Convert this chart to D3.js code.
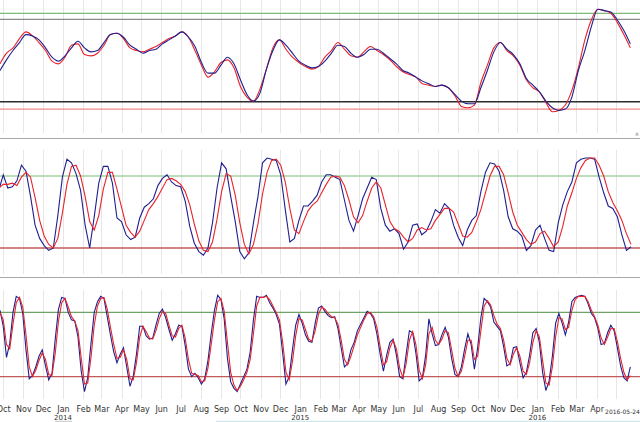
<!DOCTYPE html>
<html>
<head>
<meta charset="utf-8">
<script src="https://cdn.jsdelivr.net/npm/d3@7/dist/d3.min.js"></script>
<style>
  body { margin: 0; background: #fff; }
  svg { display: block; }
</style>
</head>
<body>
<svg id="chart" width="640" height="422"></svg>
<script>
// time span of the chart
const startDate = new Date(2013, 8, 26)
const endDate = new Date(2016, 4, 24)

// top oscillator, one value every 10 days from startDate
const topBlue = [47, 55, 62, 68, 74, 73, 70, 64, 57, 54, 58, 64, 69, 64, 61, 62, 68, 74, 75, 72,
  66, 63, 60, 62, 63, 67, 70, 73, 76, 72, 65, 53, 45, 45, 51, 57, 52, 40, 29, 24,
  30, 48, 62, 70, 66, 60, 54, 51, 49, 50, 54, 60, 66, 65, 60, 57, 59, 63, 63, 60,
  56, 52, 47, 45, 42, 39, 37, 35, 36, 34, 29, 24, 22, 22, 34, 47, 61, 68, 63, 59,
  52, 41, 36, 31, 24, 19, 17, 18, 27, 47, 62, 80, 93, 92, 91, 85, 77, 67]
const topRed = [52, 60, 64, 71, 76, 73, 68, 62, 54, 52, 57, 66, 67, 59, 58, 60, 66, 74, 75, 71,
  64, 62, 61, 63, 65, 68, 71, 73, 76, 72, 62, 51, 42, 46, 53, 55, 49, 35, 27, 24,
  33, 48, 64, 70, 63, 57, 53, 50, 48, 50, 57, 62, 68, 63, 58, 57, 61, 65, 62, 59,
  55, 50, 46, 44, 42, 37, 36, 35, 36, 34, 28, 20, 19, 21, 38, 51, 64, 68, 62, 58,
  51, 40, 34, 31, 23, 16, 17, 21, 32, 49, 70, 85, 93, 92, 90, 83, 74, 64]

// middle stochastic, weekly values ending on endDate
const midBlue = [68, 81, 70, 71, 76, 89, 84, 63, 39, 28, 22, 18, 20, 47, 79, 94, 91, 82, 68, 39,
  20, 46, 74, 88, 88, 74, 45, 42, 31, 27, 29, 45, 54, 57, 61, 72, 78, 81, 75, 72,
  71, 59, 38, 24, 17, 14, 20, 41, 70, 91, 86, 63, 42, 17, 11, 16, 41, 63, 91, 95,
  94, 93, 81, 52, 25, 28, 43, 55, 55, 59, 64, 75, 81, 81, 79, 77, 60, 43, 34, 47,
  61, 70, 79, 77, 53, 39, 34, 36, 32, 19, 25, 39, 40, 31, 34, 42, 52, 49, 57, 53,
  39, 29, 22, 35, 43, 47, 67, 83, 91, 90, 84, 68, 46, 36, 34, 30, 18, 22, 35, 39,
  28, 18, 17, 41, 56, 67, 75, 91, 94, 95, 95, 94, 79, 66, 55, 53, 46, 31, 18, 21]
const midRed = [70, 73, 73, 74, 72, 79, 83, 79, 62, 43, 30, 23, 20, 28, 49, 73, 88, 89, 80, 63,
  42, 35, 47, 69, 83, 83, 69, 54, 39, 33, 29, 34, 43, 52, 57, 63, 70, 77, 78, 76,
  73, 67, 56, 40, 26, 18, 17, 25, 44, 67, 82, 80, 64, 41, 23, 15, 23, 40, 65, 83,
  93, 94, 89, 75, 53, 35, 32, 42, 51, 56, 59, 66, 73, 79, 80, 79, 72, 60, 46, 41,
  47, 59, 70, 75, 70, 56, 42, 36, 34, 29, 25, 28, 35, 37, 35, 36, 43, 48, 53, 53,
  50, 40, 30, 29, 33, 42, 52, 66, 80, 88, 88, 81, 66, 50, 39, 33, 27, 23, 25, 32,
  34, 28, 21, 25, 38, 55, 66, 78, 87, 93, 95, 95, 89, 80, 67, 58, 51, 43, 32, 23]

// bottom stochastic, one value every 5 days from startDate
const lowBlue = [82, 67, 38, 51, 80, 95, 93, 79, 45, 18, 21, 29, 39, 45, 30, 17, 23, 55, 83, 94,
  93, 80, 73, 72, 57, 25, 6, 19, 51, 80, 90, 95, 93, 76, 59, 43, 33, 41, 47, 29,
  11, 20, 41, 67, 67, 58, 55, 56, 68, 79, 83, 75, 64, 54, 60, 68, 67, 49, 27, 20,
  23, 19, 13, 18, 35, 60, 82, 96, 92, 74, 37, 15, 9, 6, 13, 20, 27, 43, 73, 95,
  94, 94, 96, 89, 84, 78, 69, 42, 13, 20, 45, 68, 78, 70, 59, 53, 52, 70, 84, 86,
  81, 77, 75, 76, 65, 47, 29, 32, 45, 52, 63, 69, 75, 81, 79, 74, 60, 41, 25, 40,
  52, 55, 40, 20, 18, 41, 63, 61, 42, 16, 19, 40, 74, 60, 49, 50, 59, 66, 57, 37,
  22, 20, 29, 46, 60, 50, 27, 47, 75, 93, 90, 85, 71, 67, 63, 48, 30, 32, 47, 48,
  33, 19, 24, 40, 61, 65, 52, 24, 7, 16, 39, 70, 79, 70, 59, 71, 90, 94, 95, 96,
  95, 88, 79, 75, 65, 50, 51, 61, 68, 63, 47, 30, 19, 16, 29]
const lowRed = [80, 73, 50, 46, 69, 89, 94, 85, 59, 29, 20, 26, 35, 42, 36, 22, 21, 42, 72, 89,
  93, 85, 76, 72, 63, 37, 13, 14, 38, 68, 86, 93, 94, 83, 66, 50, 37, 38, 45, 36,
  18, 17, 33, 57, 67, 62, 56, 55, 63, 74, 81, 79, 68, 58, 57, 65, 68, 56, 36, 23,
  22, 21, 15, 16, 28, 50, 73, 90, 93, 81, 52, 24, 12, 7, 11, 17, 24, 36, 60, 86,
  94, 94, 95, 92, 86, 80, 73, 52, 24, 17, 34, 58, 74, 73, 64, 55, 53, 63, 78, 85,
  83, 79, 76, 75, 69, 54, 36, 31, 39, 49, 59, 66, 73, 79, 80, 76, 66, 48, 31, 34,
  47, 54, 46, 28, 19, 32, 54, 62, 50, 26, 18, 31, 60, 66, 54, 50, 55, 63, 61, 45,
  28, 20, 25, 39, 54, 54, 36, 39, 63, 86, 91, 87, 77, 69, 65, 54, 37, 31, 41, 47,
  39, 25, 22, 33, 52, 63, 57, 35, 14, 12, 29, 57, 75, 74, 64, 66, 82, 92, 95, 95,
  95, 90, 82, 76, 68, 56, 50, 57, 65, 65, 53, 37, 24, 17, 21]

// horizontal signal levels per panel
const topLevels = [90, 85.5, 23.5, 18]
const midLevels = [80, 20]
const lowLevels = [80, 20]

const svg = d3.select('#chart')
const width = 640

const x = d3.scaleTime().domain([startDate, endDate]).range([0, 631])

// dates for each series
const everyDays = (n, days, from) => d3.range(n).map(i => d3.timeDay.offset(from, i * days))
const topDates = everyDays(topBlue.length, 10, startDate)
const midDates = everyDays(midBlue.length, 7, d3.timeDay.offset(endDate, -7 * (midBlue.length - 1)))
const lowDates = everyDays(lowBlue.length, 5, startDate)

const panels = [
  { y0: 133, y1: 0, gridTop: 0, gridBottom: 133, levels: topLevels,
    levelColors: ['#7dbc7a', '#8a8a8a', '#2a2a2a', '#f08c8c'],
    dates: topDates, blue: topBlue, red: topRed, curve: d3.curveMonotoneX, redFirst: true },
  { y0: 272, y1: 152, gridTop: 150, gridBottom: 274, levels: midLevels,
    levelColors: ['#a6d2a2', '#c25a5a'],
    dates: midDates, blue: midBlue, red: midRed, curve: d3.curveLinear, redFirst: false },
  { y0: 398, y1: 291, gridTop: 290, gridBottom: 399, levels: lowLevels,
    levelColors: ['#6ea463', '#c25a5a'],
    dates: lowDates, blue: lowBlue, red: lowRed, curve: d3.curveLinear, redFirst: false }
]

const months = d3.timeMonth.range(new Date(2013, 9, 1), endDate)

panels.forEach(p => {
  const y = d3.scaleLinear().domain([0, 100]).range([p.y0, p.y1])
  const g = svg.append('g')

  // month grid
  g.selectAll('line.grid')
    .data(months)
    .join('line')
    .attr('class', 'grid')
    .attr('x1', d => Math.round(x(d)) + 0.5)
    .attr('x2', d => Math.round(x(d)) + 0.5)
    .attr('y1', p.gridTop)
    .attr('y2', p.gridBottom)
    .attr('stroke', '#e6e6e6')
    .attr('stroke-width', 1)

  // signal levels
  g.selectAll('line.level')
    .data(p.levels)
    .join('line')
    .attr('class', 'level')
    .attr('x1', 0)
    .attr('x2', width)
    .attr('y1', d => y(d))
    .attr('y2', d => y(d))
    .attr('stroke', (d, i) => p.levelColors[i])
    .attr('stroke-width', 1.3)

  const line = d3.line()
    .x(d => x(d[0]))
    .y(d => y(d[1]))
    .curve(p.curve)

  const series = [
    { values: p.blue, color: '#1f1f8f' },
    { values: p.red, color: '#e8232b' }
  ]
  if (p.redFirst) series.reverse()

  series.forEach(s => {
    g.append('path')
      .datum(p.dates.map((d, i) => [d, s.values[i]]))
      .attr('fill', 'none')
      .attr('stroke', s.color)
      .attr('stroke-width', 1.1)
      .attr('d', line)
  })
})

// panel separators
svg.selectAll('line.sep')
  .data([138.5, 277.5])
  .join('line')
  .attr('class', 'sep')
  .attr('x1', 0)
  .attr('x2', width)
  .attr('y1', d => d)
  .attr('y2', d => d)
  .attr('stroke', '#a8a8a8')
  .attr('stroke-width', 1.2)

// small resize marker at the right of the top panel
svg.append('text')
  .attr('x', 637)
  .attr('y', 135)
  .attr('text-anchor', 'middle')
  .style('font', '5px "DejaVu Sans"')
  .attr('fill', '#bbb')
  .text('▲')

// month axis
const labelMonths = months.filter(d => d < new Date(2016, 4, 1))
const axis = svg.append('g')
  .attr('transform', 'translate(0,406.5)')
  .call(d3.axisBottom(x).tickValues(labelMonths).tickFormat(d3.timeFormat('%b')).tickSize(0).tickPadding(0))
axis.select('.domain').remove()
axis.selectAll('text')
  .style('font', '8px "DejaVu Sans"')
  .attr('fill', '#333')

// year labels under January
const years = months.filter(d => d.getMonth() === 0)
svg.selectAll('text.year')
  .data(years)
  .join('text')
  .attr('class', 'year')
  .attr('x', d => x(d))
  .attr('y', 419.5)
  .attr('text-anchor', 'middle')
  .style('font', '7px "DejaVu Sans"')
  .attr('fill', '#333')
  .text(d3.timeFormat('%Y'))

// last date label
svg.append('text')
  .attr('x', 622.5)
  .attr('y', 413.5)
  .attr('text-anchor', 'middle')
  .style('font', '6px "DejaVu Sans"')
  .attr('fill', '#333')
  .text(d3.timeFormat('%Y-%m-%d')(endDate))

// scroller strip at the bottom
svg.append('line')
  .attr('x1', 216).attr('x2', width)
  .attr('y1', 421.5).attr('y2', 421.5)
  .attr('stroke', '#cfe8ee').attr('stroke-width', 1.5)
svg.append('line')
  .attr('x1', 55).attr('x2', 72)
  .attr('y1', 421.5).attr('y2', 421.5)
  .attr('stroke', '#d0d0d0').attr('stroke-width', 1.5)
</script>
</body>
</html>
